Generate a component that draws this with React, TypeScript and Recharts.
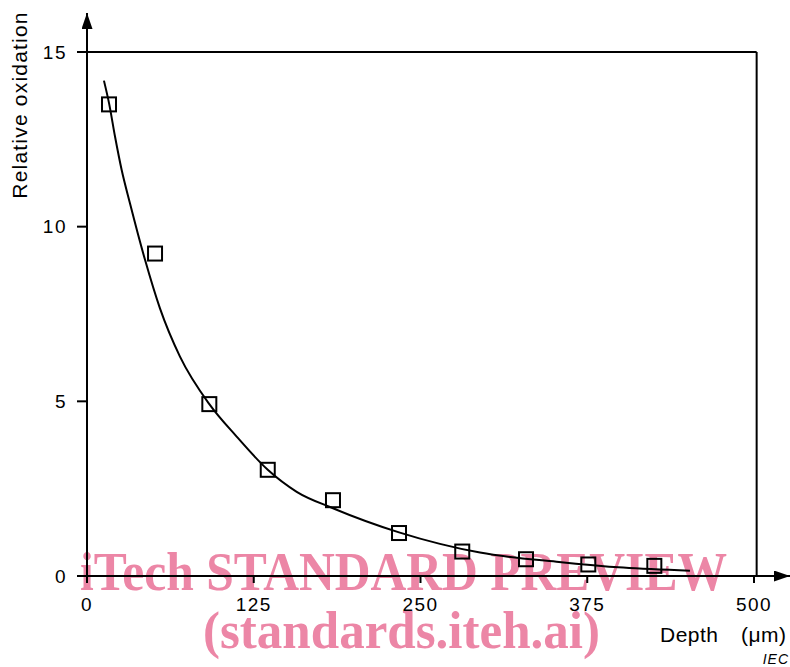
import React from 'react';
import { ComposedChart, XAxis, YAxis, Scatter, Line, ReferenceLine } from 'recharts';

// Measured points (depth in µm, relative oxidation)
const depth = [16.5, 51.0, 91.7, 135.5, 184.4, 233.9, 281.3, 329.1, 375.8, 425.3];
const oxidation = [13.5, 9.23, 4.92, 3.04, 2.17, 1.23, 0.7, 0.48, 0.33, 0.29];

// Fitted curve
const curveDepth = [12.7, 16.7, 21, 26, 32.2, 43.5, 54.7, 69.7, 91.7, 112.2, 135.5, 157.2, 184.4, 233.9, 264.6, 294.6, 352, 402, 452];
const curveOxidation = [14.18, 13.5, 12.58, 11.62, 10.67, 9.05, 7.66, 6.28, 4.92, 3.99, 3.04, 2.41, 1.94, 1.25, 0.92, 0.67, 0.41, 0.24, 0.15];

const xTicks = [0, 125, 250, 375, 500];
const yTicks = [0, 5, 10, 15];
const xMax = 527;
const yMax = 16.116;
const frameX = 502;
const frameY = 15;

const points = depth.map((x, i) => ({ x, y: oxidation[i] }));
const curve = curveDepth.map((x, i) => ({ x, y: curveOxidation[i] }));

const SANS = '"Liberation Sans", Arial, Helvetica, sans-serif';
const SERIF = '"Liberation Serif", "Times New Roman", serif';

const SquareMarker = (props: any) => {
  const { cx, cy } = props;
  if (cx == null || cy == null) return null;
  return <rect x={cx - 7} y={cy - 7} width={14} height={14} fill="none" stroke="#000" strokeWidth={2} />;
};

export default function App() {
  return (
    <div style={{ position: 'absolute', left: 0, top: 0, width: 790, height: 667, background: '#fff' }}>
      <svg width={790} height={667} style={{ position: 'absolute', left: 0, top: 0 }}>
        <defs>
          <marker
            id="arrowHead"
            viewBox="0 0 16 11"
            refX={16}
            refY={5.5}
            markerWidth={16}
            markerHeight={11}
            markerUnits="userSpaceOnUse"
            orient="auto-start-reverse"
          >
            <path d="M0,0 L16,5.5 L0,11 z" fill="#000" />
          </marker>
        </defs>
        <g fill="#EC86A6" fontFamily={SERIF} fontWeight="bold">
          <text x={80} y={590} fontSize={55} textLength={647} lengthAdjust="spacingAndGlyphs">
            iTech STANDARD PREVIEW
          </text>
          <text x={203} y={648} fontSize={52} textLength={397} lengthAdjust="spacingAndGlyphs">
            (standards.iteh.ai)
          </text>
        </g>
      </svg>
      <div style={{ position: 'absolute', left: 0, top: 0 }}>
        <ComposedChart width={790} height={667} margin={{ top: 13, right: 0, bottom: 0, left: 27 }}>
          <XAxis
            type="number"
            dataKey="x"
            domain={[0, xMax]}
            ticks={xTicks}
            interval={0}
            allowDataOverflow
            height={91}
            tickSize={7}
            tickMargin={15}
            axisLine={{ stroke: '#000', strokeWidth: 2, markerEnd: 'url(#arrowHead)' }}
            tickLine={{ stroke: '#000', strokeWidth: 2 }}
            tick={{ fill: '#000', fontSize: 19, fontFamily: SANS, letterSpacing: 1.5 }}
          />
          <YAxis
            type="number"
            dataKey="y"
            domain={[0, yMax]}
            ticks={yTicks}
            interval={0}
            allowDataOverflow
            width={60}
            tickSize={10}
            tickMargin={10}
            axisLine={{ stroke: '#000', strokeWidth: 2, markerStart: 'url(#arrowHead)' }}
            tickLine={{ stroke: '#000', strokeWidth: 2 }}
            tick={{ fill: '#000', fontSize: 19, fontFamily: SANS, letterSpacing: 1.5 }}
          />
          <ReferenceLine
            segment={[{ x: 0, y: frameY }, { x: frameX, y: frameY }]}
            stroke="#000"
            strokeWidth={2}
            ifOverflow="visible"
          />
          <ReferenceLine
            segment={[{ x: frameX, y: 0 }, { x: frameX, y: frameY }]}
            stroke="#000"
            strokeWidth={2}
            ifOverflow="visible"
          />
          <Line
            data={curve}
            dataKey="y"
            type="monotone"
            stroke="#000"
            strokeWidth={2}
            dot={false}
            activeDot={false}
            isAnimationActive={false}
          />
          <Scatter data={points} dataKey="y" shape={SquareMarker} isAnimationActive={false} />
        </ComposedChart>
      </div>
      <svg width={790} height={667} style={{ position: 'absolute', left: 0, top: 0, pointerEvents: 'none' }}>
        <text
          x={27}
          y={105}
          transform="rotate(-90, 27, 105)"
          textAnchor="middle"
          fontFamily={SANS}
          fontSize={21}
          letterSpacing={1.2}
          fill="#000"
        >
          Relative oxidation
        </text>
        <text x={660} y={642} fontFamily={SANS} fontSize={21} letterSpacing={0.5} fill="#000">
          Depth
        </text>
        <text x={741} y={642} fontFamily={SANS} fontSize={21} letterSpacing={0.5} fill="#000">
          (μm)
        </text>
        <text x={789} y={664} textAnchor="end" fontFamily={SANS} fontStyle="italic" fontSize={14} letterSpacing={1} fill="#000">
          IEC
        </text>
      </svg>
    </div>
  );
}
